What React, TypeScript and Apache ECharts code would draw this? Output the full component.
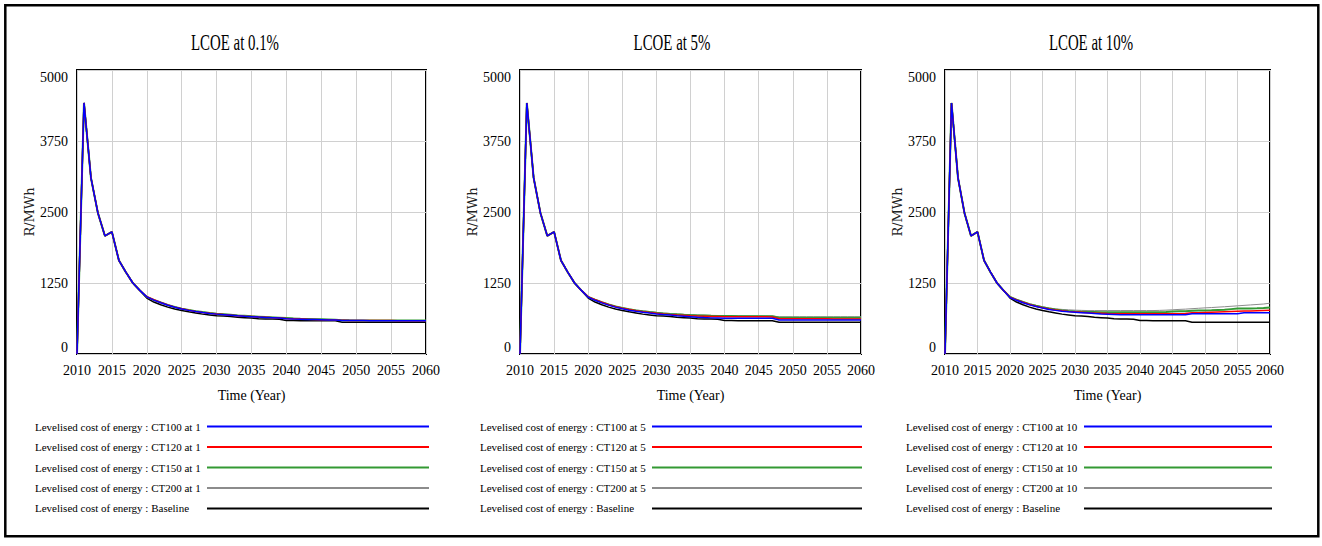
import React, { useEffect, useRef } from 'react';
import * as echarts from 'echarts';

// ---------- data ----------
const years = [
  2010, 2011, 2012, 2013, 2014, 2015, 2016, 2017, 2018, 2019,
  2020, 2021, 2022, 2023, 2024, 2025, 2026, 2027, 2028, 2029,
  2030, 2031, 2032, 2033, 2034, 2035, 2036, 2037, 2038, 2039,
  2040, 2041, 2042, 2043, 2044, 2045, 2046, 2047, 2048, 2049,
  2050, 2051, 2052, 2053, 2054, 2055, 2056, 2057, 2058, 2059, 2060,
];

const panelTitles = ['LCOE at 0.1%', 'LCOE at 5%', 'LCOE at 10%'];
const rateLabels = ['1', '5', '10'];
const scenarios = ['CT100', 'CT120', 'CT150', 'CT200'];
const yTickMin = 0;
const yTickMax = 5000;
const yTickStep = 1250;
const xTickMin = 2010;
const xTickMax = 2060;
const xTickStep = 5;

// 2010-2019 (identical for every run)
const sharedHead = [0, 4420, 3100, 2480, 2080, 2150, 1650, 1440, 1250, 1120];

// 2020-2060
const baselineTail = [
  985, 915, 868, 825, 792, 765, 742, 722, 702, 688,
  674, 668, 662, 645, 640, 635, 620, 618, 615, 612,
  590, 588, 586, 585, 585, 585, 585, 585,
  560, 560, 560, 560, 560, 560, 560, 560, 560, 560, 560, 560, 560,
];

// ---- at 1 (0.1%) ----
const ct100At1Tail = [
  1005, 948, 902, 858, 822, 792, 768, 748, 730, 715,
  702, 692, 682, 672, 664, 657, 650, 644, 638, 632,
  622, 617, 613, 609, 606, 603, 600, 598,
  590, 589, 588, 588, 587, 587, 586, 586, 585, 585, 585, 585, 585,
];
const ct120At1Tail = [
  1008, 955, 908, 862, 825, 795, 770, 750, 732, 717,
  705, 694, 684, 674, 666, 659, 652, 646, 640, 634,
  624, 619, 615, 611, 608, 605, 602, 600,
  592, 591, 590, 590, 589, 589, 588, 588, 587, 587, 587, 587, 587,
];
const ct150At1Tail = [
  1005, 952, 908, 864, 828, 798, 775, 755, 738, 722,
  710, 700, 690, 680, 672, 664, 657, 650, 644, 638,
  632, 626, 621, 617, 613, 610, 606, 602,
  594, 592, 591, 590, 590, 589, 589, 589, 588, 588, 588, 588, 588,
];
const ct200At1Tail = [
  1005, 954, 910, 866, 830, 800, 778, 758, 740, 725,
  713, 702, 692, 683, 675, 667, 660, 653, 647, 641,
  635, 629, 624, 619, 615, 611, 607, 603,
  596, 594, 592, 591, 591, 590, 590, 590, 590, 590, 590, 590, 590,
];

// ---- at 5 ----
const ct100At5Tail = [
  1000, 945, 900, 860, 825, 795, 772, 752, 735, 720,
  706, 695, 685, 675, 666, 657, 648, 641, 636, 633,
  630, 630, 630, 630, 630, 630, 628, 628,
  598, 598, 598, 598, 598, 598, 598, 598, 598, 598, 598, 598, 598,
];
const ct120At5Tail = [
  1005, 955, 910, 868, 832, 805, 782, 762, 745, 730,
  716, 705, 696, 688, 681, 675, 670, 666, 662, 660,
  658, 657, 656, 655, 655, 654, 654, 652,
  620, 620, 620, 620, 620, 620, 620, 620, 618, 618, 618, 618, 618,
];
const ct150At5Tail = [
  1005, 955, 912, 872, 838, 810, 787, 768, 752, 738,
  725, 715, 706, 698, 691, 685, 680, 676, 672, 670,
  668, 667, 666, 666, 665, 665, 664, 664,
  640, 640, 640, 640, 640, 640, 640, 640, 640, 640, 640, 640, 640,
];
const ct200At5Tail = [
  1008, 958, 915, 875, 842, 815, 792, 774, 758, 745,
  732, 722, 713, 705, 698, 692, 688, 684, 680, 678,
  676, 675, 674, 673, 672, 671, 670, 668,
  656, 656, 656, 656, 656, 656, 656, 656, 656, 656, 656, 656, 656,
];

// ---- at 10 ----
const ct100At10Tail = [
  995, 945, 902, 865, 835, 808, 785, 768, 753, 742,
  735, 728, 720, 712, 705, 700, 695, 690, 690, 690,
  690, 690, 690, 690, 690, 690, 690, 690,
  708, 708, 708, 708, 708, 708, 708, 708, 725, 725, 725, 725, 725,
];
const ct120At10Tail = [
  1000, 952, 910, 872, 842, 815, 792, 775, 760, 750,
  742, 735, 728, 722, 718, 712, 710, 708, 708, 708,
  708, 708, 708, 708, 708, 708, 710, 712,
  725, 728, 732, 736, 740, 744, 748, 752, 755, 758, 762, 766, 770,
];
const ct150At10Tail = [
  1005, 958, 915, 878, 848, 822, 800, 782, 768, 758,
  750, 745, 740, 738, 736, 735, 735, 735, 735, 735,
  735, 735, 735, 735, 740, 748, 752, 752,
  760, 765, 768, 770, 775, 780, 790, 800, 800, 800, 805, 812, 820,
];
const ct200At10Tail = [
  1010, 962, 920, 885, 855, 830, 810, 795, 785, 778,
  772, 768, 765, 765, 765, 765, 765, 765, 765, 765,
  765, 765, 765, 768, 772, 778, 785, 790,
  798, 805, 812, 818, 825, 832, 840, 848, 856, 864, 872, 880, 895,
];

const panelTails = [
  [ct100At1Tail, ct120At1Tail, ct150At1Tail, ct200At1Tail],
  [ct100At5Tail, ct120At5Tail, ct150At5Tail, ct200At5Tail],
  [ct100At10Tail, ct120At10Tail, ct150At10Tail, ct200At10Tail],
];

// ---------- styles ----------
const SERIF = 'Liberation Serif';
const scenarioColors = ['#0000ff', '#ff0000', '#339933', '#8c8c8c'];
const scenarioWidths = [1.5, 1.5, 2, 1];
const baselineColor = '#000000';
const LEGEND_FONT = 11;

const grids = [
  { left: 77, width: 349 },
  { left: 520, width: 341 },
  { left: 945, width: 325 },
];
const titleCenters = [235, 672, 1091];
const legendLayout = [
  { left: 30, textW: 167, lineEnd: 429 },
  { left: 475, textW: 167, lineEnd: 862 },
  { left: 901, textW: 173, lineEnd: 1272 },
];

function buildOption() {
  const grid: any[] = [];
  const xAxis: any[] = [];
  const yAxis: any[] = [];
  const series: any[] = [];
  const legend: any[] = [];
  const graphic: any[] = [
    {
      type: 'rect',
      silent: true,
      shape: { x: 5.3, y: 5.3, width: 1313, height: 531 },
      style: { fill: 'none', stroke: '#000', lineWidth: 2.5 },
    },
  ];

  panelTitles.forEach((title, p) => {
    grid.push({
      left: grids[p].left,
      width: grids[p].width,
      top: 70,
      height: 284,
      show: true,
      borderColor: '#000',
      borderWidth: 2,
      backgroundColor: 'transparent',
    });
    xAxis.push({
      gridIndex: p,
      type: 'value',
      min: xTickMin,
      max: xTickMax,
      interval: xTickStep,
      name: 'Time (Year)',
      nameLocation: 'middle',
      nameGap: 34,
      nameTextStyle: { fontFamily: SERIF, fontSize: 14, color: '#000' },
      axisLine: { show: false },
      axisTick: { show: false },
      axisLabel: {
        margin: 9,
        fontFamily: SERIF,
        fontSize: 14,
        color: '#000',
        formatter: (v: number) => String(v),
      },
      splitLine: { show: true, lineStyle: { color: '#d0d0d0', width: 1 } },
    });
    yAxis.push({
      gridIndex: p,
      type: 'value',
      min: yTickMin,
      max: yTickMax,
      interval: yTickStep,
      name: 'R/MWh',
      nameLocation: 'middle',
      nameGap: 38,
      nameTextStyle: { fontFamily: 'DejaVu Serif', fontSize: 13, color: '#222' },
      axisLine: { show: false },
      axisTick: { show: false },
      axisLabel: {
        margin: 9,
        fontFamily: SERIF,
        fontSize: 14,
        color: '#000',
        verticalAlignMinLabel: 'bottom',
        verticalAlignMaxLabel: 'top',
        formatter: (v: number) => String(v),
      },
      splitLine: { show: true, lineStyle: { color: '#d0d0d0', width: 1 } },
    });

    const names = scenarios.map(
      (s) => `Levelised cost of energy : ${s} at ${rateLabels[p]}`
    );
    const baseName = 'Levelised cost of energy : Baseline';

    const mk = (name: string, head: number[], tail: number[], color: string, width: number) => {
      const vals = head.concat(tail);
      return {
        type: 'line',
        name,
        xAxisIndex: p,
        yAxisIndex: p,
        data: years.map((y, i) => [y, vals[i]]),
        symbol: 'none',
        showSymbol: false,
        color,
        lineStyle: { color, width },
        emphasis: { disabled: true },
      };
    };

    // draw order: baseline, CT200, CT150, CT120, CT100 (blue on top)
    series.push(mk(baseName, sharedHead, baselineTail, baselineColor, 1.5));
    for (let k = scenarios.length - 1; k >= 0; k--) {
      series.push(mk(names[k], sharedHead, panelTails[p][k], scenarioColors[k], scenarioWidths[k]));
    }

    const L = legendLayout[p];
    legend.push({
      orient: 'vertical',
      left: L.left,
      top: 416,
      align: 'right',
      itemGap: 9.25,
      itemHeight: 14,
      itemWidth: L.lineEnd - (L.left + 5 + L.textW + 5),
      selectedMode: false,
      itemStyle: { opacity: 0 },
      data: [...names, baseName],
      formatter: (n: string) => `{t|${n}}`,
      textStyle: {
        fontFamily: SERIF,
        fontSize: LEGEND_FONT,
        color: '#000',
        rich: {
          t: { width: L.textW, align: 'left', fontFamily: SERIF, fontSize: LEGEND_FONT, color: '#000' },
        },
      },
    });

    graphic.push({
      type: 'text',
      x: titleCenters[p],
      y: 42,
      scaleX: 0.62,
      silent: true,
      style: {
        text: title,
        fontFamily: SERIF,
        fontSize: 24,
        fill: '#000',
        align: 'center',
        verticalAlign: 'middle',
        textAlign: 'center',
        textVerticalAlign: 'middle',
      },
    });
  });

  return {
    animation: false,
    backgroundColor: '#ffffff',
    textStyle: { fontFamily: SERIF },
    grid,
    xAxis,
    yAxis,
    legend,
    series,
    graphic,
  };
}

export default function App() {
  const ref = useRef<HTMLDivElement>(null);
  useEffect(() => {
    if (!ref.current) return;
    const chart = echarts.init(ref.current, undefined, { renderer: 'svg' });
    chart.setOption(buildOption() as any);
    return () => chart.dispose();
  }, []);
  return (
    <div
      ref={ref}
      style={{ position: 'fixed', left: 0, top: 0, width: 1322, height: 546, background: '#fff' }}
    />
  );
}
